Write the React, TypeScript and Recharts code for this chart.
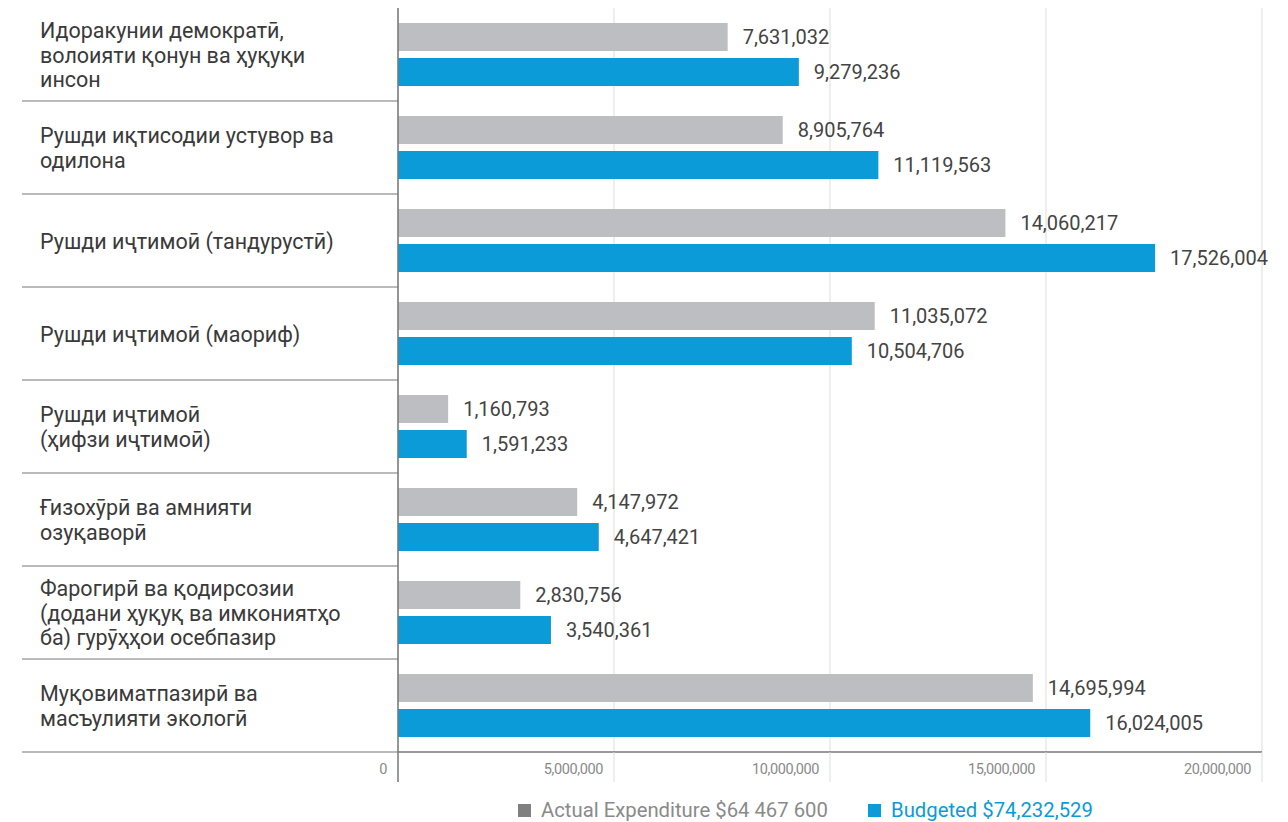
import React from "react";
import { BarChart, Bar, XAxis, YAxis, CartesianGrid, LabelList } from "recharts";

const categories = [
  "Идоракунии демократӣ,\nволоияти қонун ва ҳуқуқи\nинсон",
  "Рушди иқтисодии устувор ва\nодилона",
  "Рушди иҷтимоӣ (тандурустӣ)",
  "Рушди иҷтимоӣ (маориф)",
  "Рушди иҷтимоӣ\n(ҳифзи иҷтимоӣ)",
  "Ғизохӯрӣ ва амнияти\nозуқаворӣ",
  "Фарогирӣ ва қодирсозии\n(додани ҳуқуқ ва имкониятҳо\nба) гурӯҳҳои осебпазир",
  "Муқовиматпазирӣ ва\nмасъулияти экологӣ",
];
const actual = [7631032, 8905764, 14060217, 11035072, 1160793, 4147972, 2830756, 14695994];
const budgeted = [9279236, 11119563, 17526004, 10504706, 1591233, 4647421, 3540361, 16024005];
const xTicks = [0, 5000000, 10000000, 15000000, 20000000];
const legendLabels = ["Actual Expenditure $64 467 600", "Budgeted $74,232,529"];

const data = categories.map((name, i) => ({ name, actual: actual[i], budgeted: budgeted[i] }));

const W = 1288;
const H = 822;
const TOP = 8;
const LEFT = 22;
const YW = 376;
const RIGHT = 26;
const XH = 30;
const LEG = 40;
const plotBottom = H - LEG - XH;
const band = (plotBottom - TOP) / categories.length;

const GRAY = "#bdbec2";
const BLUE = "#0b9bd9";
const fmt = (v: any) => Number(v).toLocaleString("en-US");

function CatTick(props: any) {
  const { y, payload } = props;
  const lines = String(payload.value).split("\n");
  const lh = 24.5;
  const start = y - ((lines.length - 1) * lh) / 2;
  return (
    <g>
      <text x={40} y={start} fontSize={21.5} fill="#3a3a3a" fontFamily="Roboto" dominantBaseline="central">
        {lines.map((l, i) => (
          <tspan key={i} x={40} y={start + i * lh}>
            {l}
          </tspan>
        ))}
      </text>
      <line x1={LEFT} x2={LEFT + YW} y1={y + band / 2} y2={y + band / 2} stroke="#777" strokeWidth={1.2} />
    </g>
  );
}

function ValTick(props: any) {
  const { x, payload } = props;
  const zero = payload.value === 0;
  return (
    <g>
      <line x1={x} x2={x} y1={plotBottom} y2={plotBottom + 30} stroke={zero ? "#777" : "#ddd"} strokeWidth={zero ? 1.5 : 1} />
      <text x={x - 11} y={plotBottom + 17} textAnchor="end" fontSize={14.5} fill="#8a8a8a" fontFamily="Roboto" letterSpacing={-0.4} dominantBaseline="central">
        {fmt(payload.value)}
      </text>
    </g>
  );
}

function LegendRow() {
  const items = [
    { label: legendLabels[0], box: "#808080", text: "#8a8a8a", left: 518 },
    { label: legendLabels[1], box: BLUE, text: BLUE, left: 868 },
  ];
  return (
    <div style={{ position: "relative", fontFamily: "Roboto", fontSize: 20.3 }}>
      {items.map((it) => (
        <div
          key={it.label}
          style={{ position: "absolute", left: it.left, top: 0, display: "flex", alignItems: "center", color: it.text, whiteSpace: "nowrap" }}
        >
          <span style={{ display: "inline-block", width: 13, height: 13, background: it.box, marginRight: 10 }} />
          {it.label}
        </div>
      ))}
    </div>
  );
}

export default function App() {
  return (
    <div style={{ position: "absolute", left: 0, top: 0, width: W, height: H, background: "#fff", overflow: "hidden" }}>
      <BarChart
        width={W}
        height={H - LEG}
        data={data}
        layout="vertical"
        margin={{ top: TOP, right: RIGHT, left: LEFT, bottom: 0 }}
        barSize={28}
        barGap={7}
      >
        <CartesianGrid horizontal={false} stroke="#ddd" strokeDasharray="" />
        <XAxis
          type="number"
          domain={[0, 20000000]}
          ticks={xTicks}
          height={XH}
          axisLine={{ stroke: "#777", strokeWidth: 1.5 }}
          tickLine={false}
          tick={<ValTick />}
          interval={0}
        />
        <YAxis
          type="category"
          dataKey="name"
          width={YW}
          axisLine={{ stroke: "#777", strokeWidth: 1.5 }}
          tickLine={false}
          tick={<CatTick />}
          interval={0}
        />
        <Bar dataKey="actual" fill={GRAY} isAnimationActive={false}>
          <LabelList dataKey="actual" position="right" offset={15} formatter={fmt} fill="#444" fontSize={20} fontFamily="Roboto" />
        </Bar>
        <Bar dataKey="budgeted" fill={BLUE} isAnimationActive={false}>
          <LabelList dataKey="budgeted" position="right" offset={15} formatter={fmt} fill="#444" fontSize={20} fontFamily="Roboto" />
        </Bar>
      </BarChart>
      <div style={{ position: "absolute", left: 0, top: H - LEG + 16, width: W }}>
        <LegendRow />
      </div>
    </div>
  );
}
